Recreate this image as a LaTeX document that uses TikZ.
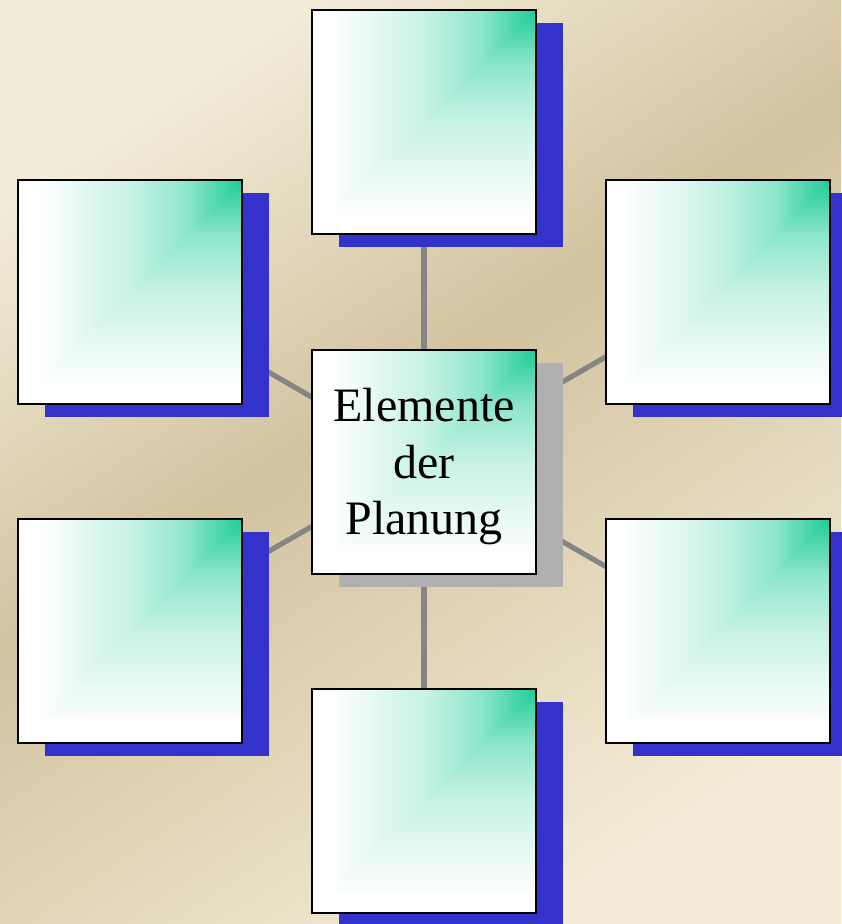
\documentclass[tikz,border=0pt]{standalone}
\usepackage{fontspec}
\setmainfont{Liberation Serif}
\usetikzlibrary{shadows}
\definecolor{bgA}{HTML}{F3ECD8}
\definecolor{bgB}{HTML}{D2C39F}
\definecolor{bgC}{HTML}{F4ECD6}
\definecolor{grn}{HTML}{1FCC99}
\definecolor{shblue}{HTML}{3333CC}
\definecolor{shgray}{HTML}{B0B0B0}
\definecolor{conn}{HTML}{858585}
\pgfdeclarehorizontalshading{bgsh}{100bp}{color(0bp)=(bgA); color(25bp)=(bgA); color(46bp)=(bgB); color(75bp)=(bgC); color(100bp)=(bgC)}
\pgfdeclarehorizontalshading{boxsh}{100bp}{color(0bp)=(white); color(25bp)=(white); color(29bp)=(white); color(50bp)=(grn!25!white); color(62.5bp)=(grn!50!white); color(75bp)=(grn); color(100bp)=(grn)}
\pgfdeclarelayer{bglayer}
\pgfdeclarelayer{linelayer}
\pgfsetlayers{bglayer,linelayer,main}
\tikzset{
  box/.style={draw=black, line width=1pt, minimum width=112pt, minimum height=112pt,
    inner sep=0pt, fill=white,
    path picture={
      \shade[shading=boxsh] (path picture bounding box.north west) rectangle (path picture bounding box.south east);
      \shade[shading=boxsh, shading angle=90] (path picture bounding box.north east) -- (path picture bounding box.south east) -- (path picture bounding box.south west) -- cycle;
    }},
  blueshadow/.style={general shadow={fill=shblue, shadow xshift=13.5pt, shadow yshift=-6.5pt}},
  grayshadow/.style={general shadow={fill=shgray, shadow xshift=13.5pt, shadow yshift=-6.5pt}},
  connline/.style={draw=conn, line width=2.6pt},
  centertext/.style={align=center, font=\fontsize{24}{28.3}\selectfont}
}
\begin{document}
\begin{tikzpicture}[x=0.5pt, y=-0.5pt]
\useasboundingbox (0,0) rectangle (841,924);
\begin{pgfonlayer}{bglayer}
\shade[shading=bgsh, shading angle=-56.8] (0,0) rectangle (841,924);
\end{pgfonlayer}
\node[box, grayshadow, centertext] (c) at (424,462) {\rule{0pt}{21.4pt}Elemente\\der\\Planung};
\node[box, blueshadow] (t) at (424,122) {};
\node[box, blueshadow] (tl) at (130,292) {};
\node[box, blueshadow] (tr) at (718,292) {};
\node[box, blueshadow] (bl) at (130,631) {};
\node[box, blueshadow] (br) at (718,631) {};
\node[box, blueshadow] (b) at (424,801) {};
\begin{pgfonlayer}{linelayer}
\draw[connline] (c.center) -- (t.center);
\draw[connline] (c.center) -- (tl.center);
\draw[connline] (c.center) -- (tr.center);
\draw[connline] (c.center) -- (bl.center);
\draw[connline] (c.center) -- (br.center);
\draw[connline] (c.center) -- (b.center);
\end{pgfonlayer}
\end{tikzpicture}
\end{document}
